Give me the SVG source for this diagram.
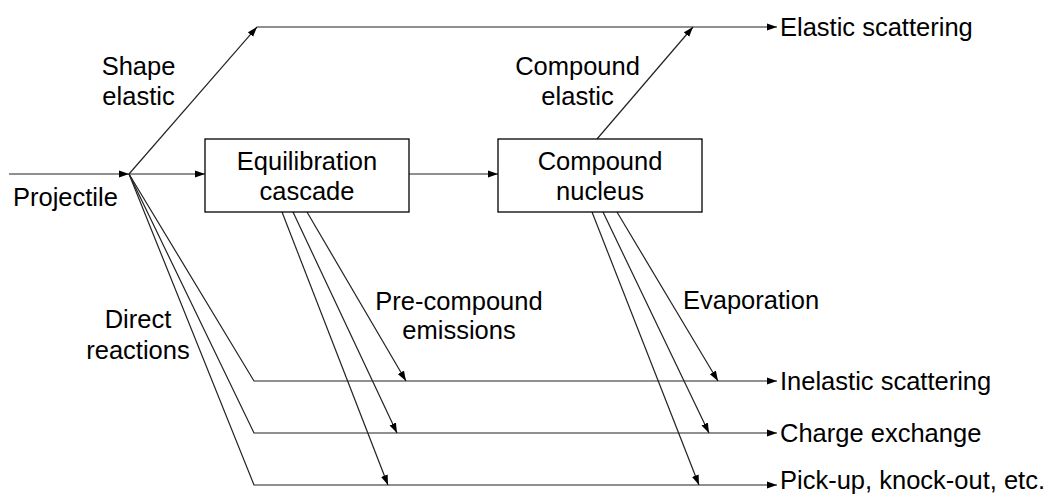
<svg xmlns="http://www.w3.org/2000/svg" width="1050" height="495" viewBox="0 0 1050 495">
  <style>
    text { font-family: "Liberation Sans", Arial, sans-serif; font-size: 25.5px; fill: #000; }
    .mid { text-anchor: middle; }
    .box { fill: #fff; stroke: #000; stroke-width: 1.3; }
    .ln { fill: none; stroke: #222; stroke-width: 1.2; }
  </style>
  <defs>
    <marker id="arr" markerUnits="userSpaceOnUse" markerWidth="11" markerHeight="8" refX="10" refY="4" orient="auto">
      <path d="M0,0.5 L10,4 L0,7.5 z" fill="#000"/>
    </marker>
  </defs>

  <g id="connectors">
    <!-- incoming projectile -->
    <line class="ln" x1="9" y1="174" x2="129" y2="174" marker-end="url(#arr)"/>
    <line class="ln" x1="129" y1="174" x2="205" y2="174" marker-end="url(#arr)"/>
    <!-- shape elastic -->
    <line class="ln" x1="129" y1="174" x2="257" y2="27" marker-end="url(#arr)"/>
    <line class="ln" x1="257" y1="27" x2="777" y2="27" marker-end="url(#arr)"/>
    <!-- cascade to compound -->
    <line class="ln" x1="409" y1="174" x2="498" y2="174" marker-end="url(#arr)"/>
    <!-- compound elastic -->
    <line class="ln" x1="597" y1="139" x2="693" y2="27" marker-end="url(#arr)"/>
    <!-- direct reactions -->
    <polyline class="ln" points="129,174 254,381 777,381" marker-end="url(#arr)"/>
    <polyline class="ln" points="129,174 254,433 777,433" marker-end="url(#arr)"/>
    <polyline class="ln" points="129,174 254,485 777,485" marker-end="url(#arr)"/>
    <!-- pre-compound emissions -->
    <line class="ln" x1="307" y1="212" x2="406" y2="381" marker-end="url(#arr)"/>
    <line class="ln" x1="293" y1="212" x2="397" y2="433" marker-end="url(#arr)"/>
    <line class="ln" x1="282" y1="212" x2="388" y2="485" marker-end="url(#arr)"/>
    <!-- evaporation -->
    <line class="ln" x1="617" y1="212" x2="718" y2="381" marker-end="url(#arr)"/>
    <line class="ln" x1="603" y1="212" x2="709" y2="433" marker-end="url(#arr)"/>
    <line class="ln" x1="592" y1="212" x2="699" y2="485" marker-end="url(#arr)"/>
  </g>

  <g id="equilibration">
    <rect class="box" x="205" y="139" width="204" height="73"/>
    <text class="mid" x="307" y="170">Equilibration</text>
    <text class="mid" x="307" y="200">cascade</text>
  </g>

  <g id="compound">
    <rect class="box" x="498" y="139" width="204" height="73"/>
    <text class="mid" x="600" y="170">Compound</text>
    <text class="mid" x="600" y="200">nucleus</text>
  </g>

  <g id="labels">
    <text x="13" y="206">Projectile</text>
    <text class="mid" x="138.5" y="75">Shape</text>
    <text class="mid" x="138.5" y="105">elastic</text>
    <text class="mid" x="577.5" y="75">Compound</text>
    <text class="mid" x="577.5" y="105">elastic</text>
    <text class="mid" x="138" y="328">Direct</text>
    <text class="mid" x="138" y="359">reactions</text>
    <text class="mid" x="459" y="310">Pre-compound</text>
    <text class="mid" x="459" y="339">emissions</text>
    <text x="683" y="309">Evaporation</text>
  </g>

  <g id="outcomes">
    <text x="780" y="36">Elastic scattering</text>
    <text x="780" y="390">Inelastic scattering</text>
    <text x="780" y="442">Charge exchange</text>
    <text x="780" y="489">Pick-up, knock-out, etc.</text>
  </g>
</svg>
